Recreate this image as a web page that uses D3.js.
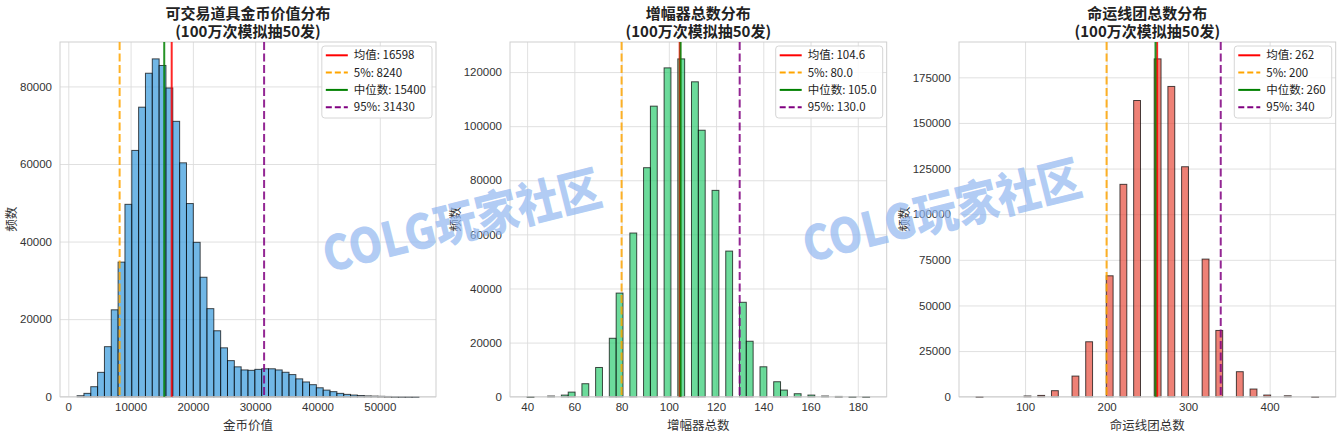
<!DOCTYPE html>
<html>
<head>
<meta charset="utf-8">
<script src="https://cdn.jsdelivr.net/npm/d3@7"></script>
<style>
  body { margin: 0; background: #fff; }
  svg { font-family: "Noto Sans CJK SC", "Noto Sans", sans-serif; }
</style>
</head>
<body>
<svg id="fig" width="1342" height="439"></svg>
<script>
// ---- data ----
const titles = ['可交易道具金币价值分布', '增幅器总数分布', '命运线团总数分布'];
const subTitle = '(100万次模拟抽50发)';
const xLabels = ['金币价值', '增幅器总数', '命运线团总数'];
const yLabel = '频数';

// histogram range [min, max] of each sample, 50 bins each
const binRanges = [[1413, 56277], [40, 185], [40, 460]];

const goldCounts = [250, 860, 2580, 6280, 12900, 22400, 34700, 49600, 63500, 74650,
  83400, 87100, 85400, 79600, 71000, 60300, 49800, 39800, 30800, 22700,
  17000, 12600, 9300, 7700, 6900, 6800, 7050, 7200, 7200, 6900,
  6300, 5700, 4600, 3800, 3100, 2300, 1700, 1300, 860, 600,
  430, 300, 200, 150, 100, 60, 30, 15, 8, 3];

const ampCounts = [5, 0, 0, 250, 0, 600, 1700, 0, 4800, 0,
  10800, 0, 21600, 38300, 0, 60500, 0, 84650, 107400, 0,
  121550, 0, 124870, 0, 116400, 98500, 0, 76270, 0, 53830,
  0, 34900, 20500, 0, 11060, 0, 5530, 2460, 0, 1100,
  0, 600, 0, 250, 0, 100, 0, 30, 0, 10];

const threadCounts = [50, 0, 0, 0, 0, 0, 0, 400, 0, 700,
  0, 3300, 0, 0, 11300, 0, 30100, 0, 0, 66250,
  0, 116360, 0, 162300, 0, 0, 185100, 0, 170000, 0,
  126000, 0, 0, 75400, 0, 36300, 0, 0, 13700, 0,
  4200, 0, 900, 0, 0, 500, 0, 0, 0, 50];

const xTicks = [
  [0, 10000, 20000, 30000, 40000, 50000],
  [40, 60, 80, 100, 120, 140, 160, 180],
  [100, 200, 300, 400]
];
const yTicks = [
  [0, 20000, 40000, 60000, 80000],
  [0, 20000, 40000, 60000, 80000, 100000, 120000],
  [0, 25000, 50000, 75000, 100000, 125000, 150000, 175000]
];

const statLabels = ['均值', '5%', '中位数', '95%'];
const goldStats = [16598, 8240, 15400, 31430];
const ampStats = [104.6, 80.0, 105.0, 130.0];
const threadStats = [262, 200, 260, 340];

const allCounts = [goldCounts, ampCounts, threadCounts];
const allStats = [goldStats, ampStats, threadStats];
const statFormats = [d3.format('d'), d3.format('.1f'), d3.format('d')];
const barColors = ['#3498db', '#2ecc71', '#e74c3c'];
const statColors = ['red', 'orange', 'green', 'purple'];
const statDash = [null, '8,3.5', null, '8,3.5'];

// ---- layout ----
const plots = [
  { left: 60, right: 436 },
  { left: 510, right: 886.7 },
  { left: 959, right: 1335.7 }
];
const plotTop = 42, plotBottom = 396.7;

const svg = d3.select('#fig');

plots.forEach((p, pi) => {
  const counts = allCounts[pi];
  const [lo, hi] = binRanges[pi];
  const nb = counts.length;
  const bw = (hi - lo) / nb;
  const bins = counts.map((c, i) => ({ x0: lo + i * bw, x1: lo + (i + 1) * bw, c }));
  const pad = (hi - lo) * 0.05;

  const x = d3.scaleLinear().domain([lo - pad, hi + pad]).range([p.left, p.right]);
  const y = d3.scaleLinear().domain([0, d3.max(counts) * 1.05]).range([plotBottom, plotTop]);

  const g = svg.append('g');

  // grid + tick labels
  const xa = g.append('g')
      .attr('transform', `translate(0,${plotBottom})`)
      .call(d3.axisBottom(x).tickValues(xTicks[pi]).tickFormat(d3.format('d'))
        .tickSize(-(plotBottom - plotTop)).tickPadding(6));
  const ya = g.append('g')
      .attr('transform', `translate(${p.left},0)`)
      .call(d3.axisLeft(y).tickValues(yTicks[pi]).tickFormat(d3.format('d'))
        .tickSize(-(p.right - p.left)).tickPadding(8));
  [xa, ya].forEach(a => {
    a.select('.domain').remove();
    a.selectAll('line').attr('stroke', '#dcdcdc').attr('stroke-width', 0.9);
    a.selectAll('text').attr('fill', '#333').style('font-size', '11.5px');
  });

  // bars
  g.append('g').selectAll('rect')
      .data(bins.filter(b => b.c > 0))
      .join('rect')
      .attr('x', d => x(d.x0))
      .attr('width', d => x(d.x1) - x(d.x0))
      .attr('y', d => y(d.c))
      .attr('height', d => Math.max(0.5, y(0) - y(d.c)))
      .attr('fill', barColors[pi])
      .attr('fill-opacity', 0.7)
      .attr('stroke', '#000')
      .attr('stroke-opacity', 0.7)
      .attr('stroke-width', 1);

  // spines
  g.append('rect')
      .attr('x', p.left).attr('y', plotTop)
      .attr('width', p.right - p.left).attr('height', plotBottom - plotTop)
      .attr('fill', 'none').attr('stroke', '#cfcfcf').attr('stroke-width', 1);

  // stat lines
  allStats[pi].forEach((v, i) => {
    g.append('line')
        .attr('x1', x(v)).attr('x2', x(v))
        .attr('y1', plotTop).attr('y2', plotBottom)
        .attr('stroke', statColors[i])
        .attr('stroke-width', 2)
        .attr('stroke-opacity', 0.85)
        .attr('stroke-dasharray', statDash[i]);
  });

  // legend
  const lg = g.append('g');
  const box = lg.append('rect');
  const rows = allStats[pi].map((v, i) => `${statLabels[i]}: ${statFormats[pi](v)}`);
  const texts = rows.map((t, i) => lg.append('text')
      .attr('y', plotTop + 13.3 + i * 17.3)
      .attr('dy', '0.35em')
      .style('font-size', '11.5px')
      .attr('fill', '#222')
      .text(t));
  const tw = d3.max(texts, t => t.node().getComputedTextLength());
  const bwid = 32 + tw + 6;
  const bx = p.right - 4 - bwid;
  box.attr('x', bx).attr('y', plotTop + 4).attr('width', bwid).attr('height', 72)
      .attr('rx', 3).attr('fill', '#fff').attr('fill-opacity', 0.85)
      .attr('stroke', '#d6d6d6');
  texts.forEach(t => t.attr('x', bx + 32));
  rows.forEach((r, i) => {
    lg.append('line')
        .attr('x1', bx + 4).attr('x2', bx + 26)
        .attr('y1', plotTop + 13.3 + i * 17.3).attr('y2', plotTop + 13.3 + i * 17.3)
        .attr('stroke', statColors[i]).attr('stroke-width', 2)
        .attr('stroke-dasharray', statDash[i] ? '6,3' : null);
  });

  // titles and labels
  const cx = (p.left + p.right) / 2;
  g.append('text').attr('x', cx).attr('y', 18.5).attr('text-anchor', 'middle')
      .style('font-size', '15px').style('font-weight', 'bold').attr('fill', '#222')
      .text(titles[pi]);
  g.append('text').attr('x', cx).attr('y', 37).attr('text-anchor', 'middle')
      .style('font-size', '15px').style('font-weight', 'bold').attr('fill', '#222')
      .text(subTitle);
  g.append('text').attr('x', cx).attr('y', 430).attr('text-anchor', 'middle')
      .style('font-size', '12.5px').attr('fill', '#333')
      .text(xLabels[pi]);

  const minTx = d3.min(ya.selectAll('text').nodes(), n => n.getBBox().x) + p.left;
  g.append('text')
      .attr('transform', `translate(${minTx - 8},${(plotTop + plotBottom) / 2}) rotate(-90)`)
      .attr('text-anchor', 'middle')
      .attr('dy', '0.35em')
      .style('font-size', '12.5px').attr('fill', '#333')
      .text(yLabel);
});

// watermark
[[462, 222], [942, 212]].forEach(([wx, wy]) => {
  svg.append('text')
      .attr('transform', `translate(${wx},${wy}) rotate(-14)`)
      .attr('text-anchor', 'middle')
      .attr('dy', '0.35em')
      .attr('textLength', 285)
      .attr('lengthAdjust', 'spacingAndGlyphs')
      .style('font-size', '48px')
      .style('font-weight', '900')
      .attr('fill', '#8fb6f0')
      .attr('fill-opacity', 0.7)
      .text('COLG玩家社区');
});
</script>
</body>
</html>
